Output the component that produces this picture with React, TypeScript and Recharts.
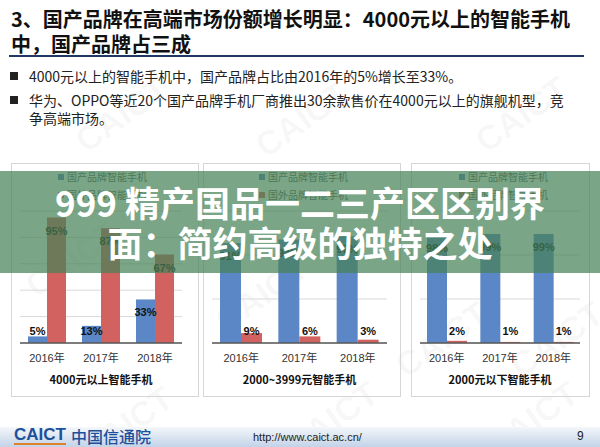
import React from 'react';
import { BarChart, Bar, XAxis, YAxis, CartesianGrid, LabelList } from 'recharts';

const years = ['2016年', '2017年', '2018年'];
const seriesNames = ['国产品牌智能手机', '国外品牌智能手机'];

const highDomestic = [5, 13, 33];
const highForeign = [95, 87, 67];
const midDomestic = [91, 94, 97];
const midForeign = [9, 6, 3];
const lowDomestic = [98, 99, 99];
const lowForeign = [2, 1, 1];

const panelTitles = ['4000元以上智能手机', '2000~3999元智能手机', '2000元以下智能手机'];
const ticks100 = [0, 20, 40, 60, 80, 100];
const ticks120 = [0, 20, 40, 60, 80, 100, 120];

const BLUE = '#5b87c6';
const RED = '#d2625f';
const CJK = '"Noto Sans CJK SC", "Noto Sans", sans-serif';
const LATIN = '"Liberation Sans", "Noto Sans CJK SC", sans-serif';

const toRows = (dom: number[], frn: number[]) =>
  years.map((y, i) => ({ year: y, domestic: dom[i], foreign: frn[i] }));

// excel "inside end" label, pushed up when the bar is too short
const renderLabel = (props: any) => {
  const { x, y, width, height, value } = props;
  const cy = Math.min(y + 13, y + height - 12);
  return (
    <text
      x={x + width / 2}
      y={cy}
      textAnchor="middle"
      dominantBaseline="central"
      fontSize={11}
      fontWeight={700}
      fontFamily={LATIN}
      fill="#111"
    >
      {value}%
    </text>
  );
};

type PanelProps = {
  left: number;
  width: number;
  rows: { year: string; domestic: number; foreign: number }[];
  max: number;
  ticks: number[];
  margin: { left: number; right: number };
  barSize: number;
  legendX: number;
  title: string;
};

function Panel({ left, width, rows, max, ticks, margin, barSize, legendX, title }: PanelProps) {
  return (
    <div
      style={{
        position: 'absolute',
        left,
        top: 163,
        width,
        height: 234,
        border: '1px solid #d6d6d6',
        boxSizing: 'border-box',
      }}
    >
      {seriesNames.map((n, i) => (
        <div
          key={n}
          style={{
            position: 'absolute',
            left: legendX,
            top: 7 + i * 18,
            fontSize: 10,
            lineHeight: '12px',
            color: '#595959',
            fontFamily: CJK,
            whiteSpace: 'nowrap',
          }}
        >
          <span
            style={{
              display: 'inline-block',
              width: 6,
              height: 6,
              background: i === 0 ? BLUE : RED,
              marginRight: 3,
              verticalAlign: 'middle',
              position: 'relative',
              top: -1,
            }}
          />
          {n}
        </div>
      ))}
      <div style={{ position: 'absolute', left: -1, top: 36 }}>
        <BarChart
          width={width}
          height={190}
          data={rows}
          margin={{ top: 11, right: margin.right, left: margin.left, bottom: 17 }}
          barGap={0}
          barSize={barSize}
        >
          <CartesianGrid stroke="#d9d9d9" vertical={false} />
          <YAxis hide domain={[0, max]} ticks={ticks} />
          <XAxis
            dataKey="year"
            height={30}
            tickLine={false}
            axisLine={{ stroke: '#595959', strokeWidth: 1.5 }}
            tick={{ fontSize: 11, fill: '#333', fontFamily: LATIN }}
            tickMargin={5}
            interval={0}
          />
          <Bar dataKey="domestic" fill={BLUE} isAnimationActive={false}>
            <LabelList dataKey="domestic" content={renderLabel} />
          </Bar>
          <Bar dataKey="foreign" fill={RED} isAnimationActive={false}>
            <LabelList dataKey="foreign" content={renderLabel} />
          </Bar>
        </BarChart>
      </div>
      <div
        style={{
          position: 'absolute',
          left: margin.left - 1,
          width: width - margin.left - margin.right,
          top: 207,
          textAlign: 'center',
          fontSize: 11,
          fontWeight: 700,
          color: '#111',
          fontFamily: CJK,
          whiteSpace: 'nowrap',
        }}
      >
        {title}
      </div>
    </div>
  );
}

const marks = [
  [70, 95], [250, 100], [470, 95], [20, 240], [210, 275], [390, 320], [505, 320], [75, 405], [280, 400], [480, 400],
];

export default function App() {
  return (
    <div
      style={{
        position: 'absolute',
        left: 0,
        top: 0,
        width: 600,
        height: 447,
        background: '#fff',
        overflow: 'hidden',
        fontFamily: CJK,
      }}
    >
      {marks.map(([x, y], i) => (
        <div
          key={i}
          style={{
            position: 'absolute',
            left: x,
            top: y,
            fontSize: 34,
            fontWeight: 700,
            fontFamily: LATIN,
            color: 'rgba(0,0,0,0.04)',
            transform: 'rotate(-35deg)',
          }}
        >
          CAICT
        </div>
      ))}

      <div
        style={{
          position: 'absolute',
          left: 11,
          top: 6,
          fontSize: 20,
          fontWeight: 700,
          lineHeight: '25px',
          color: '#111',
          whiteSpace: 'nowrap',
        }}
      >
        3、国产品牌在高端市场份额增长明显：4000元以上的智能手机
        <br />
        中，国产品牌占三成
      </div>
      <div style={{ position: 'absolute', left: 9, top: 55, width: 575, height: 2, background: '#1f3864' }} />

      <div style={{ position: 'absolute', left: 9, top: 67, fontSize: 14, lineHeight: '18px', color: '#222' }}>
        <div style={{ position: 'relative', paddingLeft: 20, whiteSpace: 'nowrap' }}>
          <span style={{ position: 'absolute', left: 1, top: 5, width: 8, height: 8, background: '#222' }} />
          4000元以上的智能手机中，国产品牌占比由2016年的5%增长至33%。
        </div>
        <div style={{ position: 'relative', paddingLeft: 20, marginTop: 6, whiteSpace: 'nowrap' }}>
          <span style={{ position: 'absolute', left: 1, top: 5, width: 8, height: 8, background: '#222' }} />
          华为、OPPO等近20个国产品牌手机厂商推出30余款售价在4000元以上的旗舰机型，竞
          <br />
          争高端市场。
        </div>
      </div>

      <Panel
        left={11}
        width={188}
        rows={toRows(highDomestic, highForeign)}
        max={100}
        ticks={ticks100}
        margin={{ left: 9, right: 17 }}
        barSize={19}
        legendX={46}
        title={panelTitles[0]}
      />
      <Panel
        left={203}
        width={198}
        rows={toRows(midDomestic, midForeign)}
        max={120}
        ticks={ticks120}
        margin={{ left: 9, right: 14 }}
        barSize={21}
        legendX={55}
        title={panelTitles[1]}
      />
      <Panel
        left={411}
        width={179}
        rows={toRows(lowDomestic, lowForeign)}
        max={120}
        ticks={ticks120}
        margin={{ left: 9, right: 10 }}
        barSize={20}
        legendX={47}
        title={panelTitles[2]}
      />

      <div
        style={{
          position: 'absolute',
          left: 0,
          top: 427,
          width: 600,
          height: 20,
          background: 'linear-gradient(to bottom, #f4f7fb, #c3d3e8)',
        }}
      />
      <div style={{ position: 'absolute', left: 14, top: 426, height: 20, display: 'flex', alignItems: 'center' }}>
        <span
          style={{
            fontFamily: LATIN,
            fontWeight: 700,
            fontSize: 17,
            color: '#1d4f9a',
            borderBottom: '2px solid #e0822c',
            lineHeight: '16px',
          }}
        >
          CAICT
        </span>
        <span style={{ fontSize: 16, lineHeight: '18px', color: '#1d4f9a', marginLeft: 5, fontWeight: 500 }}>
          中国信通院
        </span>
      </div>
      <div
        style={{
          position: 'absolute',
          left: 253,
          top: 430,
          fontSize: 11,
          lineHeight: '14px',
          fontFamily: LATIN,
          color: '#222',
        }}
      >
        http://www.caict.ac.cn/
      </div>
      <div
        style={{
          position: 'absolute',
          left: 577,
          top: 429,
          fontSize: 12,
          lineHeight: '14px',
          fontFamily: LATIN,
          color: '#222',
        }}
      >
        9
      </div>

      <div
        style={{
          position: 'absolute',
          left: 0,
          top: 171,
          width: 600,
          height: 102,
          background: 'rgba(70,130,88,0.72)',
        }}
      />
      <div
        style={{
          position: 'absolute',
          left: 0,
          top: 182,
          width: 600,
          textAlign: 'center',
          color: '#fff',
          fontSize: 35,
          fontWeight: 700,
          lineHeight: '40px',
        }}
      >
        999 精产国品一二三产区区别界
        <br />
        面：简约高级的独特之处
      </div>
    </div>
  );
}
